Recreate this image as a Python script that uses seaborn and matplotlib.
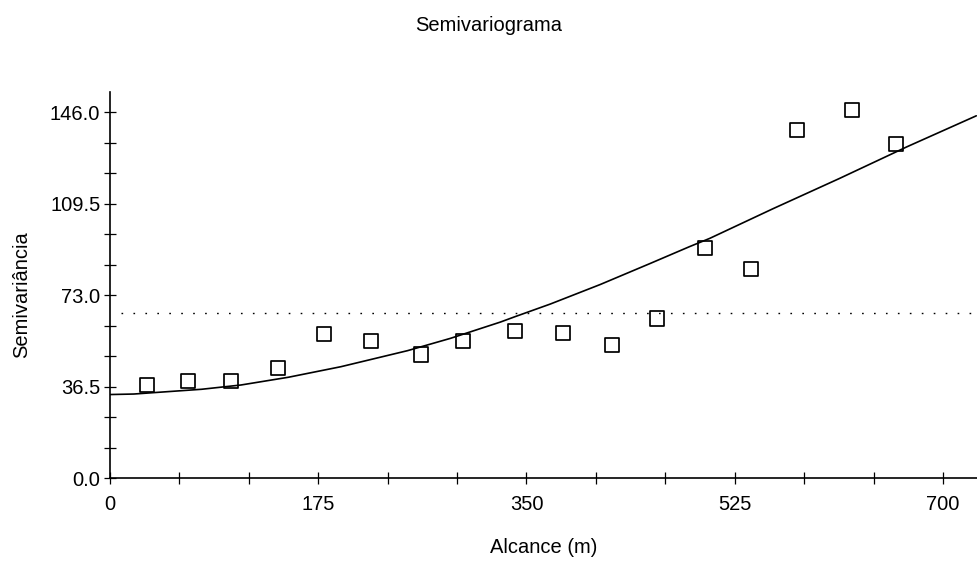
import matplotlib
matplotlib.use("Agg")
import matplotlib.pyplot as plt
import seaborn as sns
from matplotlib.ticker import MultipleLocator

# Experimental semivariogram: lag distance (m) and semivariance per lag class
lag_m = [30.8, 65.8, 101.4, 141.4, 180.1, 219.1, 261.1, 296.4, 340.1,
         380.4, 421.6, 459.9, 500.3, 538.9, 577.6, 623.3, 660.3]
semivariance = [37.1, 38.7, 38.8, 43.8, 57.3, 54.8, 49.3, 54.8, 58.8,
                58.0, 53.1, 63.6, 91.9, 83.5, 138.8, 146.8, 133.2]

# Fitted model curve
model_lag = [0, 20, 77, 110, 150, 194, 250, 286, 328, 340, 370, 412, 454,
             487, 504, 557, 613, 670, 728]
model_gamma = [33.3, 33.5, 35.4, 37.1, 40.2, 44.4, 50.8, 55.7, 62.2, 64.3,
               69.4, 77.2, 85.6, 92.3, 95.6, 107.4, 119.5, 132.2, 144.5]

# Sample variance (sill reference)
sample_variance = 66.0

x_ticks = [0, 175, 350, 525, 700]
y_ticks = [0.0, 36.5, 73.0, 109.5, 146.0]

sns.set_style("ticks")
plt.rcParams["font.family"] = ["Liberation Sans", "DejaVu Sans"]

W, H = 977, 561
fig = plt.figure(figsize=(W / 100, H / 100), dpi=100)
ax = fig.add_axes([110 / W, (H - 478) / H, (W - 110) / W, (478 - 92) / H])

sns.lineplot(x=model_lag, y=model_gamma, color="black", linewidth=1.2,
             estimator=None, ax=ax)
sns.scatterplot(x=lag_m, y=semivariance, marker="s", s=105,
                facecolor="none", edgecolor="black", linewidth=1.25,
                ax=ax, zorder=3)
ax.axhline(sample_variance, xmin=0.013, color="black", linewidth=1.0,
           linestyle=(0, (1.2, 7.4)), dash_capstyle="butt")

ax.set_xlim(0, 728.6)
ax.set_ylim(0, 154.0)
ax.set_xticks(x_ticks)
ax.set_xticklabels([str(v) for v in x_ticks])
ax.set_yticks(y_ticks)
ax.set_yticklabels([f"{v:.1f}" for v in y_ticks])
ax.xaxis.set_minor_locator(MultipleLocator(175 / 3))
ax.yaxis.set_minor_locator(MultipleLocator(36.5 / 3))

ax.tick_params(which="both", direction="inout", length=8, width=0.9,
               color="black", labelcolor="black")
ax.tick_params(axis="x", which="both", pad=8, labelsize=14.5)
ax.tick_params(axis="y", which="both", pad=3, labelsize=14.5)

sns.despine(ax=ax)
for side in ("left", "bottom"):
    ax.spines[side].set_linewidth(1.2)
    ax.spines[side].set_color("black")

ax.set_xlabel("Alcance (m)", fontsize=14.5, color="black")
ax.xaxis.set_label_coords(0.5, -0.155)
ax.set_ylabel("Semivariância", fontsize=14.5, color="black")
ax.yaxis.set_label_coords(-0.091, 0.474)

fig.text(0.5, 1 - 31 / H, "Semivariograma", ha="center", va="baseline",
         fontsize=14.5, color="black")

fig.savefig("out.png", dpi=100, facecolor="white")
